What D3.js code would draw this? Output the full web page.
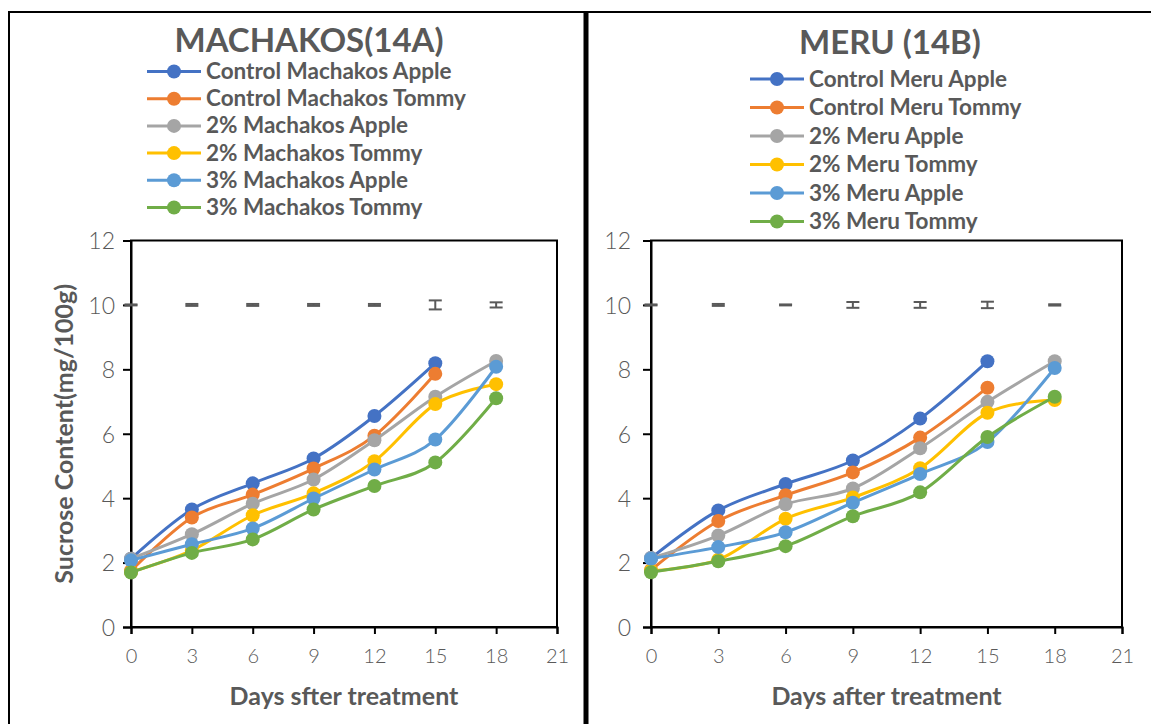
<!DOCTYPE html>
<html>
<head>
<meta charset="utf-8">
<script src="https://cdn.jsdelivr.net/npm/d3@7"></script>
<style>
  html, body { margin: 0; padding: 0; background: #fff; }
  svg { display: block; }
</style>
</head>
<body>
<svg></svg>
<script>
// ---- data ----
const days = [0, 3, 6, 9, 12, 15, 18];
const xTicks = [0, 3, 6, 9, 12, 15, 18, 21];
const yTicks = [0, 2, 4, 6, 8, 10, 12];

const machakosNames = ["Control Machakos Apple", "Control Machakos Tommy", "2% Machakos Apple",
  "2% Machakos Tommy", "3% Machakos Apple", "3% Machakos Tommy"];
const meruNames = ["Control Meru Apple", "Control Meru Tommy", "2% Meru Apple",
  "2% Meru Tommy", "3% Meru Apple", "3% Meru Tommy"];

// Machakos (14A) - controls stop at day 15
const machakosControlApple = [2.12, 3.65, 4.46, 5.23, 6.55, 8.19];
const machakosControlTommy = [1.75, 3.40, 4.11, 4.92, 5.94, 7.86];
const machakos2Apple = [2.12, 2.88, 3.83, 4.58, 5.80, 7.15, 8.26];
const machakos2Tommy = [1.71, 2.38, 3.47, 4.15, 5.15, 6.92, 7.54];
const machakos3Apple = [2.07, 2.57, 3.06, 3.99, 4.89, 5.82, 8.08];
const machakos3Tommy = [1.69, 2.30, 2.72, 3.65, 4.38, 5.11, 7.10];

// Meru (14B)
const meruControlApple = [2.14, 3.62, 4.44, 5.17, 6.47, 8.25];
const meruControlTommy = [1.77, 3.29, 4.09, 4.80, 5.88, 7.43];
const meru2Apple = [2.14, 2.84, 3.81, 4.30, 5.55, 6.99, 8.25];
const meru2Tommy = [1.75, 2.09, 3.36, 4.02, 4.93, 6.65, 7.05];
const meru3Apple = [2.12, 2.48, 2.94, 3.86, 4.75, 5.74, 8.04];
const meru3Tommy = [1.70, 2.04, 2.51, 3.44, 4.18, 5.90, 7.15];

// error-bar row drawn at value 10
const errLevel = 10;
const machakosErr = [0.015, 0.03, 0.03, 0.03, 0.03, 0.14, 0.08];
const meruErr = [0.015, 0.03, 0.015, 0.09, 0.09, 0.1, 0.02];

const colors = ["#4472C4", "#ED7D31", "#A5A5A5", "#FFC000", "#5B9BD5", "#70AD47"];

// ---- drawing ----
const W = 1151, H = 724;
const font = "Lato, 'Open Sans', sans-serif";
const grey = "#595959";

const svg = d3.select("svg")
  .attr("width", W)
  .attr("height", H)
  .style("font-family", font);

svg.append("rect").attr("width", W).attr("height", H).attr("fill", "#fff");

function drawPanel(p) {
  const g = svg.append("g");

  const x = d3.scaleLinear().domain([0, 21]).range([p.left, p.right]);
  const y = d3.scaleLinear().domain([0, 12]).range([627, 240.5]);

  // title
  g.append("text")
    .attr("x", p.titleX).attr("y", p.titleY)
    .attr("text-anchor", "middle")
    .attr("fill", grey)
    .style("font-size", "33px").style("font-weight", 700)
    .text(p.title);

  // legend
  const rows = g.selectAll("g.legrow")
    .data(p.names)
    .enter().append("g")
    .attr("class", "legrow")
    .attr("transform", (d, i) => `translate(${p.legX},${p.legY + i * p.legStep})`);
  rows.append("line")
    .attr("x1", 0).attr("x2", 54)
    .attr("stroke", (d, i) => colors[i]).attr("stroke-width", 3);
  rows.append("circle")
    .attr("cx", 27).attr("r", 7)
    .attr("fill", (d, i) => colors[i]);
  rows.append("text")
    .attr("x", 59).attr("y", 7.5)
    .attr("fill", grey)
    .style("font-size", "22.5px").style("font-weight", 700)
    .text(d => d);

  // plot frame
  g.append("rect")
    .attr("x", p.left).attr("y", y(12))
    .attr("width", p.right - p.left).attr("height", y(0) - y(12))
    .attr("fill", "none").attr("stroke", "#000").attr("stroke-width", 2);

  // axes
  const xAxis = g.append("g")
    .attr("transform", `translate(0,${y(0)})`)
    .call(d3.axisBottom(x).tickValues(xTicks).tickSize(7).tickPadding(15));
  const yAxis = g.append("g")
    .attr("transform", `translate(${p.left},0)`)
    .call(d3.axisLeft(y).tickValues(yTicks).tickSize(8).tickPadding(p.yPad));
  [xAxis, yAxis].forEach(a => {
    a.select(".domain").attr("stroke", "#000").attr("stroke-width", 2);
    a.selectAll(".tick line").attr("stroke", "#000").attr("stroke-width", 2);
    a.selectAll("text").attr("fill", grey).style("font-family", font).style("font-weight", 300);
  });
  xAxis.selectAll("text").style("font-size", "20px");
  yAxis.selectAll("text").style("font-size", "23px").attr("dy", "0.36em");

  // axis titles
  g.append("text")
    .attr("x", (p.left + p.right) / 2).attr("y", 705)
    .attr("text-anchor", "middle").attr("fill", grey)
    .style("font-size", "25px").style("font-weight", 700)
    .text(p.xTitle);
  if (p.yTitle) {
    g.append("text")
      .attr("transform", `translate(73,${(y(0) + y(12)) / 2}) rotate(-90)`)
      .attr("text-anchor", "middle").attr("fill", grey)
      .style("font-size", "25px").style("font-weight", 700)
      .text(p.yTitle);
  }

  // error bars at value 10
  const eb = g.append("g").attr("stroke", grey).attr("stroke-width", 2);
  p.err.forEach((e, i) => {
    const cx = x(days[i]);
    eb.append("line").attr("x1", cx).attr("x2", cx)
      .attr("y1", y(errLevel - e)).attr("y2", y(errLevel + e));
    [errLevel - e, errLevel + e].forEach(v => {
      eb.append("line").attr("x1", cx - 6.5).attr("x2", cx + 6.5)
        .attr("y1", y(v)).attr("y2", y(v));
    });
  });

  // series
  const line = d3.line()
    .x((d, i) => x(days[i]))
    .y(d => y(d))
    .curve(d3.curveCatmullRom.alpha(0));
  p.series.forEach((vals, si) => {
    const sg = g.append("g");
    sg.append("path")
      .attr("d", line(vals))
      .attr("fill", "none")
      .attr("stroke", colors[si])
      .attr("stroke-width", 3);
    sg.selectAll("circle")
      .data(vals)
      .enter().append("circle")
      .attr("cx", (d, i) => x(days[i]))
      .attr("cy", d => y(d))
      .attr("r", 7)
      .attr("fill", colors[si]);
  });
}

drawPanel({
  title: "MACHAKOS(14A)", titleX: 309, titleY: 52,
  names: machakosNames, legX: 147, legY: 71.5, legStep: 27.2,
  left: 131, right: 557, yPad: 8,
  xTitle: "Days sfter treatment", yTitle: "Sucrose Content(mg/100g)",
  err: machakosErr,
  series: [machakosControlApple, machakosControlTommy, machakos2Apple,
    machakos2Tommy, machakos3Apple, machakos3Tommy]
});

drawPanel({
  title: "MERU (14B)", titleX: 890, titleY: 54,
  names: meruNames, legX: 750, legY: 79, legStep: 28.5,
  left: 651, right: 1122, yPad: 12,
  xTitle: "Days after treatment", yTitle: null,
  err: meruErr,
  series: [meruControlApple, meruControlTommy, meru2Apple,
    meru2Tommy, meru3Apple, meru3Tommy]
});

// panel borders
const border = svg.append("g").attr("stroke", "#000");
border.append("line").attr("x1", 8).attr("x2", W).attr("y1", 12).attr("y2", 12).attr("stroke-width", 2);
border.append("line").attr("x1", 9).attr("x2", 9).attr("y1", 11).attr("y2", H).attr("stroke-width", 2);
border.append("line").attr("x1", 586).attr("x2", 586).attr("y1", 11).attr("y2", H).attr("stroke-width", 5);
</script>
</body>
</html>
